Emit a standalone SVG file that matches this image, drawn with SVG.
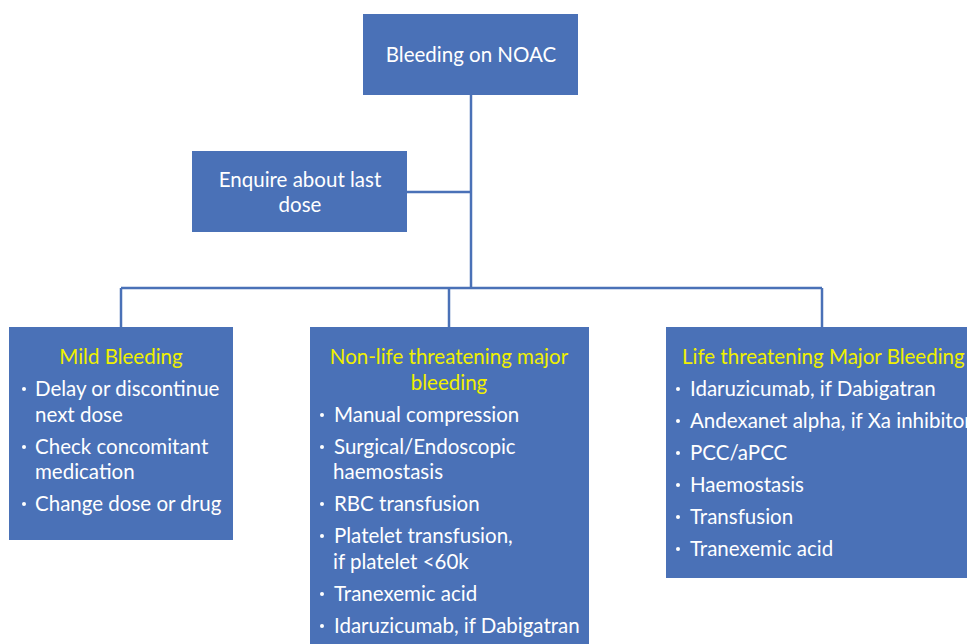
<svg xmlns="http://www.w3.org/2000/svg" width="967" height="644" viewBox="0 0 967 644">
  <style>
    .box { fill: #4A71B7; }
    .link { stroke: #4A71B7; stroke-width: 2.5; fill: none; }
    .dot { fill: #FFFFFF; }
    text { font-family: Lato, "Liberation Sans", sans-serif; font-size: 20.5px; fill: #FFFFFF; }
    .head { fill: #F0F000; }
    .mid { text-anchor: middle; }
  </style>
  <rect width="967" height="644" fill="#FFFFFF"/>
  <g id="connectors">
    <path class="link" d="M471 95 V288"/>
    <path class="link" d="M407 192 H471"/>
    <path class="link" d="M121 288 H822"/>
    <path class="link" d="M121 288 V327"/>
    <path class="link" d="M449 288 V327"/>
    <path class="link" d="M822 288 V327"/>
  </g>
  <g id="root">
    <rect class="box" x="363" y="14" width="215" height="81"/>
    <text class="mid" x="471" y="62">Bleeding on NOAC</text>
  </g>
  <g id="enquire">
    <rect class="box" x="192" y="151" width="215" height="81"/>
    <text class="mid" x="300" y="187">Enquire about last</text>
    <text class="mid" x="300" y="212">dose</text>
  </g>
  <g id="mild">
    <rect class="box" x="9" y="327" width="224" height="213"/>
    <text class="mid head" x="121" y="364">Mild Bleeding</text>
    <circle class="dot" cx="24" cy="389" r="2"/><text x="35" y="396">Delay or discontinue</text>
    <text x="35" y="422">next dose</text>
    <circle class="dot" cx="24" cy="447" r="2"/><text x="35" y="454">Check concomitant</text>
    <text x="35" y="479">medication</text>
    <circle class="dot" cx="24" cy="504" r="2"/><text x="35" y="511">Change dose or drug</text>
  </g>
  <g id="non-life-threatening">
    <rect class="box" x="310" y="327" width="279" height="317"/>
    <text class="mid head" x="449" y="364">Non-life threatening major</text>
    <text class="mid head" x="449" y="390">bleeding</text>
    <circle class="dot" cx="322" cy="415" r="2"/><text x="334" y="422">Manual compression</text>
    <circle class="dot" cx="322" cy="447" r="2"/><text x="334" y="454">Surgical/Endoscopic</text>
    <text x="333" y="479">haemostasis</text>
    <circle class="dot" cx="322" cy="504" r="2"/><text x="334" y="511">RBC transfusion</text>
    <circle class="dot" cx="322" cy="536" r="2"/><text x="334" y="543">Platelet transfusion,</text>
    <text x="333" y="569">if platelet &lt;60k</text>
    <circle class="dot" cx="322" cy="594" r="2"/><text x="334" y="601">Tranexemic acid</text>
    <circle class="dot" cx="322" cy="626" r="2"/><text x="334" y="633">Idaruzicumab, if Dabigatran</text>
  </g>
  <g id="life-threatening">
    <rect class="box" x="666" y="327" width="301" height="251"/>
    <text class="head" x="682" y="364">Life threatening Major Bleeding</text>
    <circle class="dot" cx="678" cy="389" r="2"/><text x="690" y="396">Idaruzicumab, if Dabigatran</text>
    <circle class="dot" cx="678" cy="421" r="2"/><text x="690" y="428">Andexanet alpha, if Xa inhibitor</text>
    <circle class="dot" cx="678" cy="453" r="2"/><text x="690" y="460">PCC/aPCC</text>
    <circle class="dot" cx="678" cy="485" r="2"/><text x="690" y="492">Haemostasis</text>
    <circle class="dot" cx="678" cy="517" r="2"/><text x="690" y="524">Transfusion</text>
    <circle class="dot" cx="678" cy="549" r="2"/><text x="690" y="556">Tranexemic acid</text>
  </g>
</svg>
